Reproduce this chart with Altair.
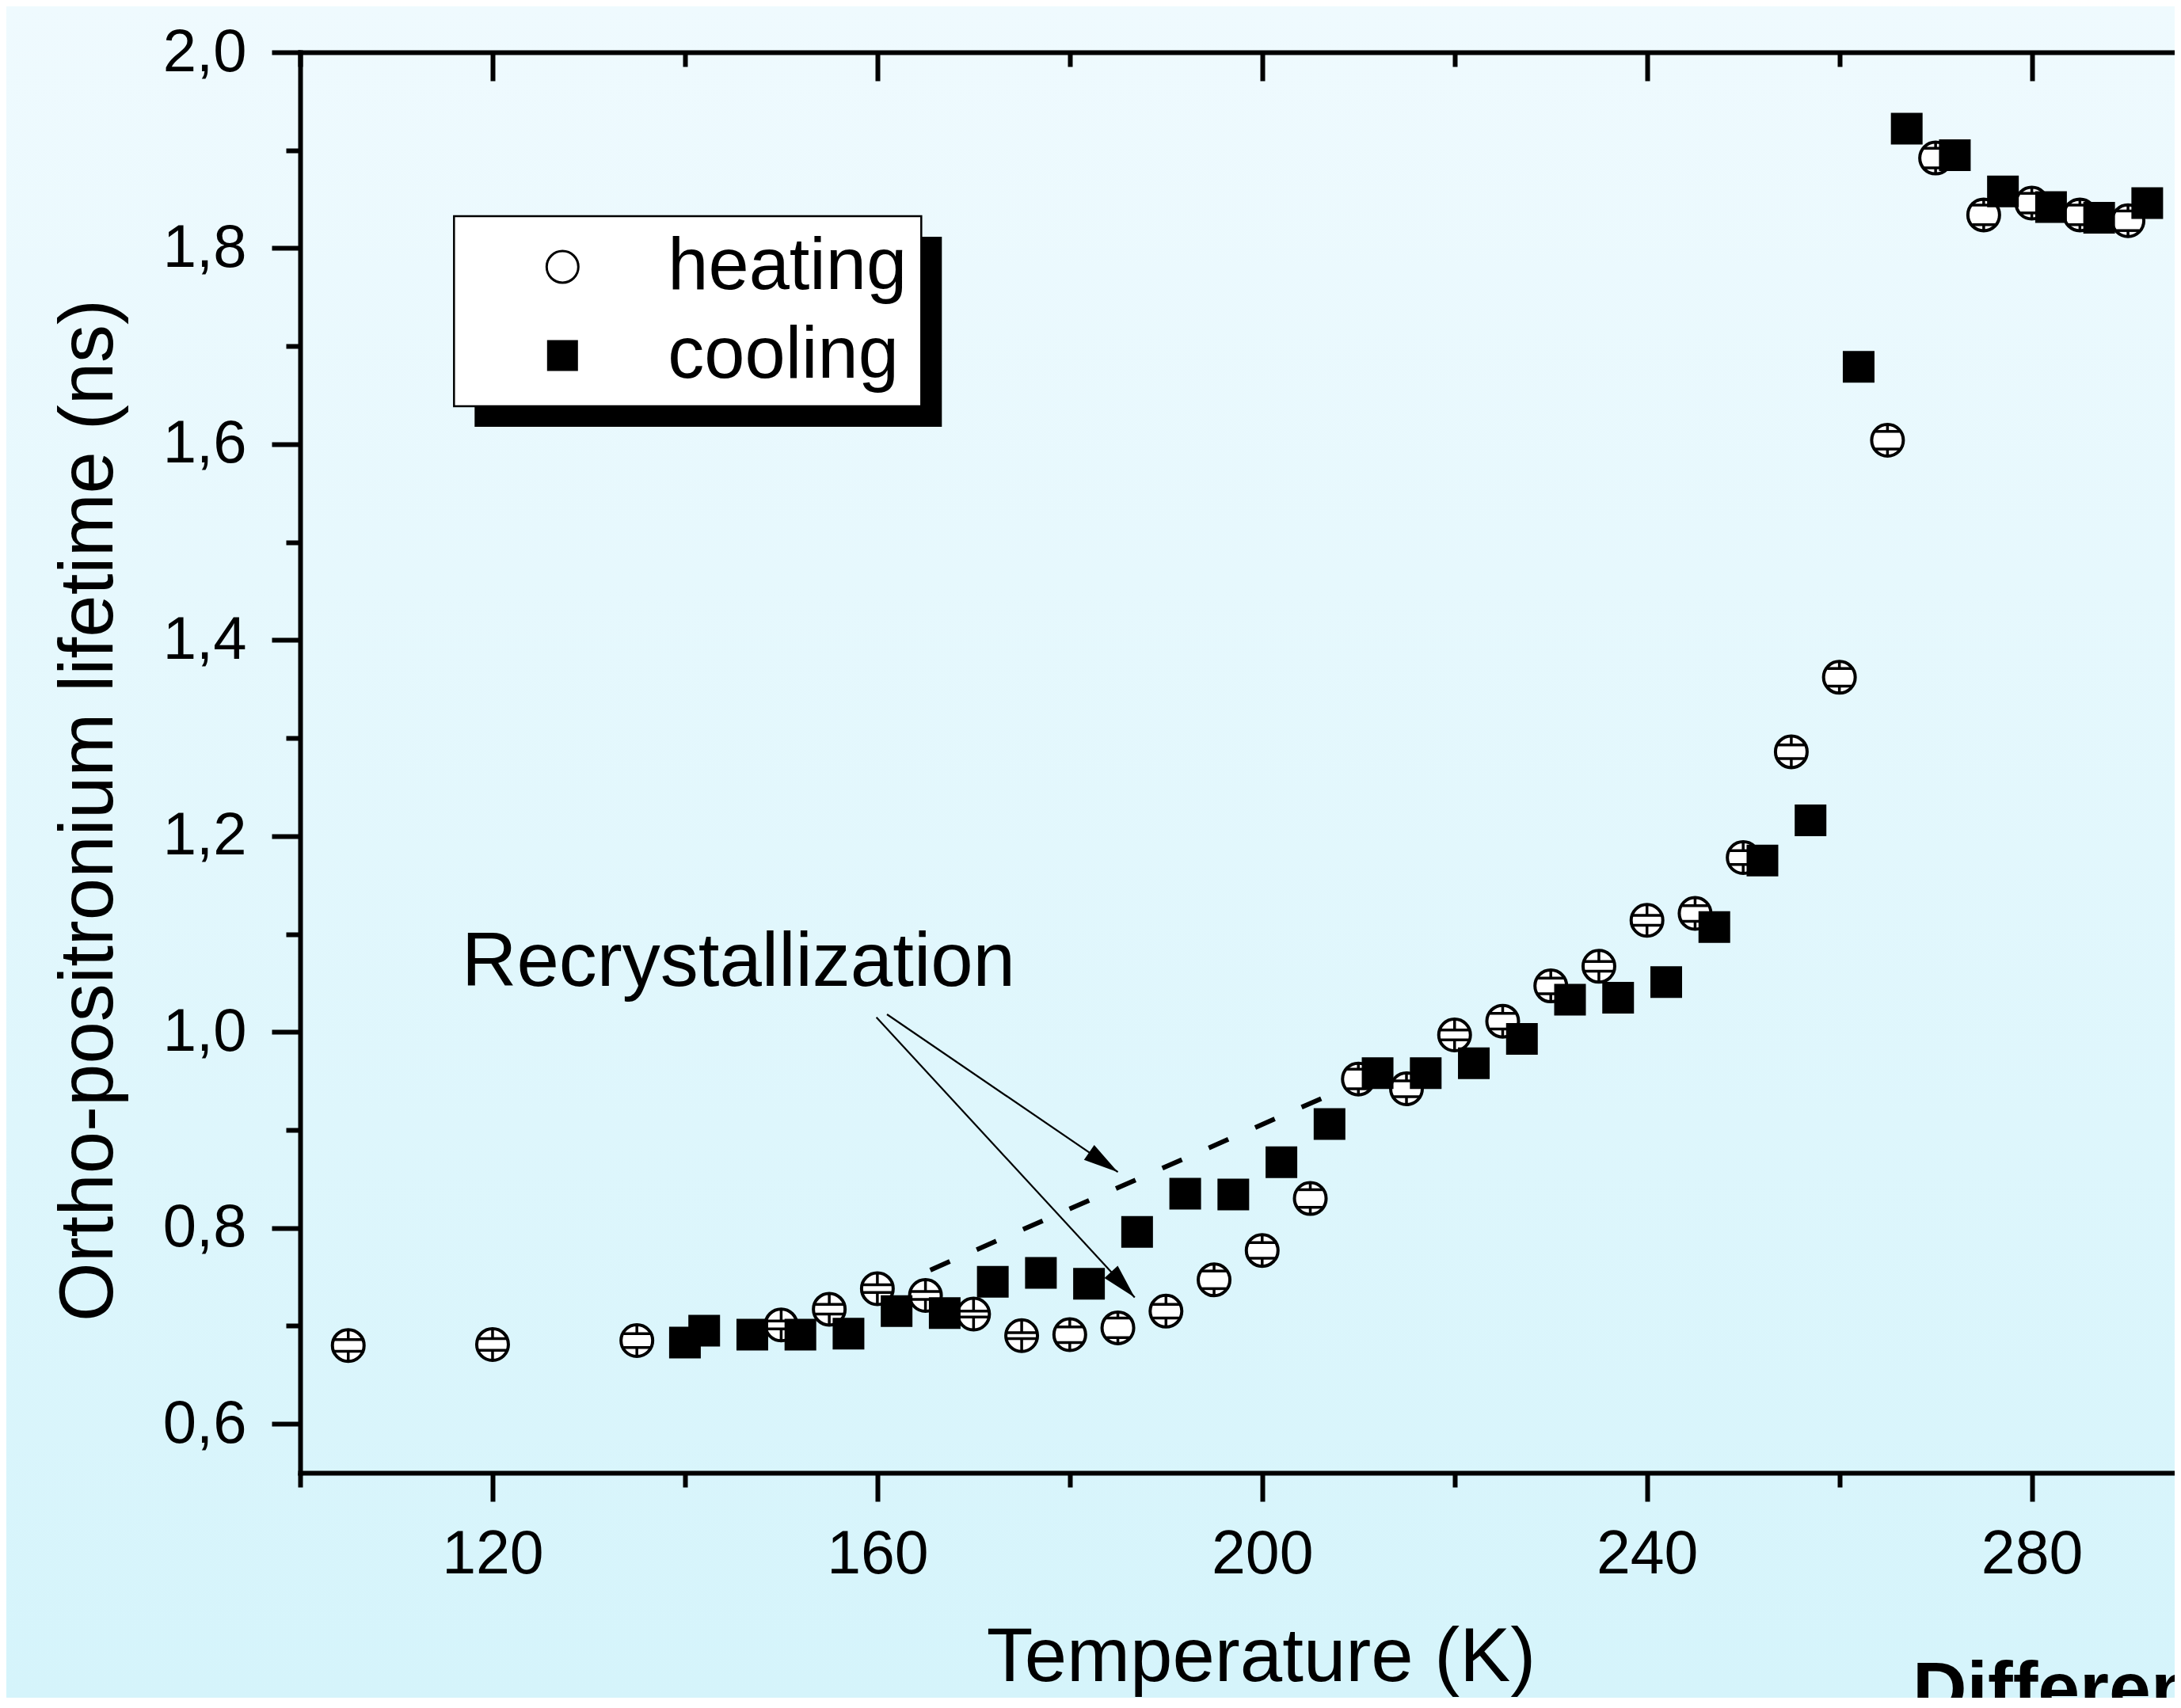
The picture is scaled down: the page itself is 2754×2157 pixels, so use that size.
import math
import altair as alt
import pandas as pd

# ---------------- data ----------------
SERIES = ["heating", "cooling"]

HEAT_T = [105, 120, 135, 150, 155, 160, 165, 170, 175, 180, 185, 190, 195, 200, 205, 210,
          215, 220, 225, 230, 235, 240, 245, 250, 255, 260, 265, 270, 275, 280, 285, 290]
HEAT_TAU = [0.680, 0.681, 0.685, 0.701, 0.717, 0.738, 0.731, 0.712, 0.690, 0.691, 0.698, 0.715,
            0.747, 0.777, 0.830, 0.952, 0.942, 0.997, 1.011, 1.047, 1.067, 1.114, 1.121, 1.178,
            1.286, 1.362, 1.604, 1.892, 1.834, 1.846, 1.834, 1.828]
HEAT_ERR = [0.006, 0.006, 0.007, 0.004, 0.005, 0.004, 0.004, 0.003, 0.003, 0.008, 0.010, 0.007,
            0.009, 0.008, 0.009, 0.010, 0.008, 0.005, 0.008, 0.008, 0.005, 0.005, 0.008, 0.007,
            0.007, 0.009, 0.009, 0.010, 0.010, 0.010, 0.010, 0.010]

COOL_T = [140, 142, 147, 152, 157, 162, 167, 172, 177, 182, 187, 192, 197, 202, 207, 212,
          217, 222, 227, 232, 237, 242, 247, 252, 257, 262, 267, 272, 277, 282, 287, 292]
COOL_TAU = [0.683, 0.695, 0.691, 0.691, 0.692, 0.715, 0.713, 0.745, 0.754, 0.743, 0.796, 0.835,
            0.834, 0.867, 0.906, 0.958, 0.958, 0.968, 0.993, 1.033, 1.035, 1.051, 1.107, 1.175,
            1.216, 1.679, 1.922, 1.895, 1.858, 1.842, 1.831, 1.846]

X_MAJOR = [120, 160, 200, 240, 280]
X_MINOR = [100, 140, 180, 220, 260]
Y_MAJOR = [0.6, 0.8, 1.0, 1.2, 1.4, 1.6, 1.8, 2.0]
Y_MINOR = [0.7, 0.9, 1.1, 1.3, 1.5, 1.7, 1.9]

X_TITLE = "Temperature (K)"
Y_TITLE = "Ortho-positronium lifetime (ns)"

NOTE_LABEL = ["Recrystallization"]
NOTE_T = [116.8]
NOTE_TAU = [1.047]

DASH_T = [165.5, 206.6]
DASH_TAU = [0.757, 0.934]

ARROW_T0 = [161.0, 159.9]
ARROW_TAU0 = [1.018, 1.015]
ARROW_T1 = [185.0, 186.75]
ARROW_TAU1 = [0.857, 0.729]

FOOTER = ["Differen"]

# ---------------- layout / style ----------------
FONT = "Liberation Sans"
W, H = 2367, 1794
PAD_L, PAD_T, PAD_B = 371, 58, 284
XMIN, XMAX = 100, 294.85
YMIN, YMAX = 0.55, 2.0
PX_K = W / (XMAX - XMIN)
PX_NS = H / (YMAX - YMIN)
R_PX = 19          # inner radius used for error-bar caps / stubs
HEAD = "M0,0L0.52,2L-0.52,2Z"   # arrow head, tip at origin

LEG_X, LEG_Y, LEG_W, LEG_H, SHADOW = 194.3, 207, 590, 240, 26

xs = alt.Scale(domain=[XMIN, XMAX], nice=False, zero=False)
ys = alt.Scale(domain=[YMIN, YMAX], nice=False, zero=False)

GRAD = {"gradient": "linear", "x1": 0, "y1": 0, "x2": 0, "y2": 1,
        "stops": [{"offset": 0, "color": "#EFFAFE"}, {"offset": 1, "color": "#D5F4FB"}]}

# ---------------- tables ----------------
heat = pd.DataFrame({"T": HEAT_T, "tau": HEAT_TAU, "err": HEAT_ERR})
heat["series"] = "heating"
heat["up"] = heat["tau"] + heat["err"]
heat["lo"] = heat["tau"] - heat["err"]
half = [math.sqrt(max(R_PX ** 2 - (e * PX_NS) ** 2, 0)) / PX_K for e in HEAT_ERR]
heat["xl"] = heat["T"] - half
heat["xr"] = heat["T"] + half
caps = pd.concat([
    heat[["T", "xl", "xr"]].assign(cy=heat["up"]),
    heat[["T", "xl", "xr"]].assign(cy=heat["lo"]),
], ignore_index=True)

cool = pd.DataFrame({"T": COOL_T, "tau": COOL_TAU})
cool["series"] = "cooling"

arrows = pd.DataFrame({"T0": ARROW_T0, "tau0": ARROW_TAU0, "T1": ARROW_T1, "tau1": ARROW_TAU1})
arrows["rot"] = [
    math.degrees(math.atan2(-(b1 - b0) * PX_NS, (a1 - a0) * PX_K)) + 90
    for a0, b0, a1, b1 in zip(ARROW_T0, ARROW_TAU0, ARROW_T1, ARROW_TAU1)
]
dash = pd.DataFrame({"T": DASH_T, "tau": DASH_TAU})
note = pd.DataFrame({"T": NOTE_T, "tau": NOTE_TAU, "label": NOTE_LABEL})
footer = pd.DataFrame({"label": FOOTER})
one = pd.DataFrame({"k": [0]})

# ---------------- axes ----------------
common = dict(zindex=1, grid=False, tickColor="black", domainColor="black", labelColor="black")
ax_x_major = alt.Axis(orient="bottom", values=X_MAJOR, format="d", tickSize=36, tickWidth=6,
                      domainWidth=6, domainCap="square", labelFontSize=77, labelFont=FONT,
                      labelPadding=90, labelBaseline="alphabetic", labelFlush=False,
                      labelOverlap=False, title=X_TITLE, titleFontSize=96, titleFont=FONT,
                      titleFontWeight="normal", titleColor="black", titleX=1213, titleY=262,
                      titleBaseline="alphabetic", titleAlign="center", **common)
ax_x_minor = alt.Axis(orient="bottom", values=X_MINOR, tickSize=18, tickWidth=6, labels=False,
                      domain=False, title=None, **common)
ax_x_top_major = alt.Axis(orient="bottom", offset=-H, values=X_MAJOR, tickSize=36, tickWidth=6,
                          labels=False, domainWidth=6, domainCap="square", title=None, **common)
ax_x_top_minor = alt.Axis(orient="bottom", offset=-H, values=X_MINOR, tickSize=18, tickWidth=6,
                          labels=False, domain=False, title=None, **common)
ax_y_major = alt.Axis(orient="left", values=Y_MAJOR,
                      labelExpr="replace(format(datum.value, '.1f'), '.', ',')",
                      tickSize=36, tickWidth=6, domainWidth=6, domainCap="square",
                      labelFontSize=76, labelFont=FONT, labelPadding=32, labelFlush=False,
                      labelOverlap=False, title=Y_TITLE, titleFontSize=96, titleFont=FONT,
                      titleFontWeight="normal", titleColor="black", titleX=-238, titleY=957,
                      titleBaseline="alphabetic", titleAlign="center", **common)
ax_y_minor = alt.Axis(orient="left", values=Y_MINOR, tickSize=18, tickWidth=6, labels=False,
                      domain=False, title=None, **common)

lg = alt.Legend(orient="none", legendX=LEG_X, legendY=LEG_Y, title=None, fillColor="white",
                strokeColor="black", padding=18, labelFontSize=92, labelFont=FONT,
                labelColor="black", labelLimit=1200, labelOffset=87, symbolOffset=73,
                rowPadding=20, symbolStrokeWidth=3)

fill_enc = alt.Fill("series:N", scale=alt.Scale(domain=SERIES, range=["white", "black"]), legend=lg)
stroke_enc = alt.Stroke("series:N", scale=alt.Scale(domain=SERIES, range=["black", "black"]), legend=lg)
shape_enc = alt.Shape("series:N", scale=alt.Scale(domain=SERIES, range=["circle", "square"]), legend=lg)
size_enc = alt.Size("series:N", scale=alt.Scale(domain=SERIES, range=[1600, 1296]), legend=lg)

# ---------------- layers ----------------
bg = alt.Chart(one).mark_rect(fill=GRAD).encode(
    x=alt.value(-PAD_L), x2=alt.value(W), y=alt.value(-PAD_T), y2=alt.value(H + PAD_B))

shadow = alt.Chart(one).mark_rect(color="black").encode(
    x=alt.value(LEG_X + SHADOW), x2=alt.value(LEG_X + SHADOW + LEG_W),
    y=alt.value(LEG_Y + SHADOW), y2=alt.value(LEG_Y + SHADOW + LEG_H))

dash_line = alt.Chart(dash).mark_line(color="black", strokeWidth=6, strokeDash=[27, 37],
                                      strokeCap="butt").encode(
    x=alt.X("T:Q", scale=xs, axis=None), y=alt.Y("tau:Q", scale=ys, axis=None))

arrow_lines = alt.Chart(arrows).mark_rule(color="black", strokeWidth=2.2).encode(
    x=alt.X("T0:Q", scale=xs, axis=None), y=alt.Y("tau0:Q", scale=ys, axis=None),
    x2="T1:Q", y2="tau1:Q")

arrow_heads = alt.Chart(arrows).mark_point(shape=HEAD, size=1936, filled=True, color="black",
                                           opacity=1, strokeWidth=0).encode(
    x=alt.X("T1:Q", scale=xs, axis=None), y=alt.Y("tau1:Q", scale=ys, axis=None),
    angle=alt.Angle("rot:Q", scale=None))

circles = alt.Chart(heat).mark_point(filled=True, strokeWidth=4, opacity=1).encode(
    x=alt.X("T:Q", scale=xs, axis=ax_x_major),
    y=alt.Y("tau:Q", scale=ys, axis=ax_y_major),
    fill=fill_enc, stroke=stroke_enc, shape=shape_enc, size=size_enc)

cap_lines = alt.Chart(caps).mark_rule(color="black", strokeWidth=3.5).encode(
    x=alt.X("xl:Q", scale=xs, axis=ax_x_minor), x2="xr:Q",
    y=alt.Y("cy:Q", scale=ys, axis=ax_y_minor))

stub_up = alt.Chart(heat).mark_rule(color="black", strokeWidth=3.5, yOffset=-R_PX).encode(
    x=alt.X("T:Q", scale=xs, axis=ax_x_top_major),
    y=alt.Y("tau:Q", scale=ys, axis=None), y2="up:Q")

stub_dn = alt.Chart(heat).mark_rule(color="black", strokeWidth=3.5, yOffset=R_PX).encode(
    x=alt.X("T:Q", scale=xs, axis=ax_x_top_minor),
    y=alt.Y("tau:Q", scale=ys, axis=None), y2="lo:Q")

squares = alt.Chart(cool).mark_point(filled=True, strokeWidth=4, opacity=1).encode(
    x=alt.X("T:Q", scale=xs, axis=None),
    y=alt.Y("tau:Q", scale=ys, axis=None),
    fill=fill_enc, stroke=stroke_enc, shape=shape_enc, size=size_enc)

note_text = alt.Chart(note).mark_text(align="left", baseline="alphabetic", fontSize=96,
                                      font=FONT, color="black").encode(
    x=alt.X("T:Q", scale=xs, axis=None), y=alt.Y("tau:Q", scale=ys, axis=None), text="label:N")

footer_text = alt.Chart(footer).mark_text(align="left", baseline="alphabetic", fontSize=95,
                                          font=FONT, fontWeight="bold", color="black").encode(
    x=alt.value(2036), y=alt.value(2099), text="label:N")

chart = alt.layer(
    bg, shadow, dash_line, arrow_lines, arrow_heads, circles, cap_lines, stub_up, stub_dn,
    squares, note_text, footer_text
).resolve_axis(
    x="independent", y="independent"
).properties(
    width=W, height=H,
    autosize=alt.AutoSizeParams(type="none"),
    padding={"left": PAD_L, "top": PAD_T, "right": 0, "bottom": PAD_B},
    background="#E2F7FC",
).configure(font=FONT).configure_view(strokeWidth=0).configure_legend(strokeWidth=2.5)

chart.save("out.html", embed_options={"renderer": "svg", "actions": False})
